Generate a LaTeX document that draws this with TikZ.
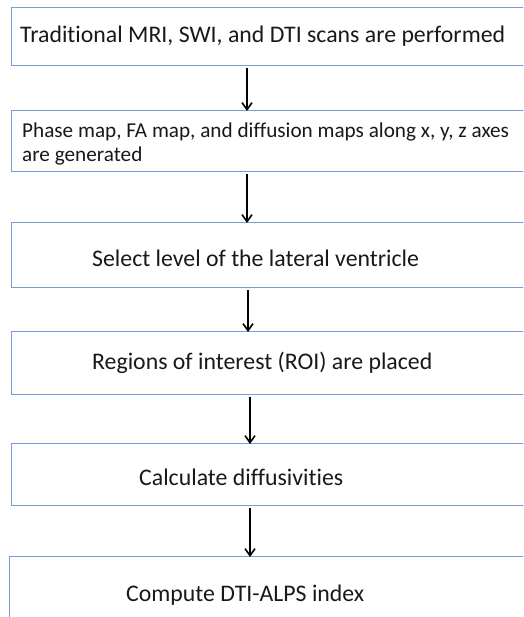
\documentclass[tikz,border=0pt]{standalone}
\usepackage{fontspec}
\setmainfont[Ligatures={NoCommon,NoRequired,NoContextual}]{Carlito}
\usetikzlibrary{arrows.meta,calc}
\definecolor{boxblue}{RGB}{120,156,210}
\definecolor{txt}{RGB}{25,25,25}
\begin{document}
\begin{tikzpicture}[x=1pt,y=-1pt,
  box/.style={draw=boxblue, line width=1.3pt, minimum width=540pt, anchor=north west, inner sep=0pt, fill=white},
  lbl/.style={font=\fontsize{23.8}{24}\selectfont, text=txt, anchor=west, inner sep=0pt, align=left},
  arr/.style={-{Straight Barb[length=7pt,width=10pt,line width=1.6pt]}, line width=1.8pt, shorten <=1.5pt, shorten >=-1pt}]
\useasboundingbox (0,0) rectangle (523,617);
\clip (0,0) rectangle (523,617);
\fill[white] (0,0) rectangle (523,617);
% boxes
\node[box, minimum height=58pt] (b1) at (11,7) {};
\node[box, minimum height=61pt] (b2) at (11,110) {};
\node[box, minimum height=65pt] (b3) at (11,222) {};
\node[box, minimum height=63pt] (b4) at (11,331) {};
\node[box, minimum height=62pt] (b5) at (11,443) {};
\node[box, minimum height=100pt] (b6) at (9,556) {};
% labels
\node[lbl] (t1) at (20,36) {Traditional MRI, SWI, and DTI scans are performed};
\node[lbl, anchor=base west, font=\fontsize{21.2}{24}\selectfont] (t2) at (22,162) {Phase map, FA map, and diffusion maps along x, y, z axes\\are generated};
\node[lbl] (t3) at (92,258) {Select level of the lateral ventricle};
\node[lbl] (t4) at (92,363) {Regions of interest (ROI) are placed};
\node[lbl] (t5) at (139,477) {Calculate diffusivities};
\node[lbl] (t6) at (126,595) {Compute DTI-ALPS index};
% arrow columns
\coordinate (c1) at (247,0);
\coordinate (c2) at (247,0);
\coordinate (c3) at (248,0);
\coordinate (c4) at (250,0);
\coordinate (c5) at (250,0);
\draw[arr] (b1.south -| c1) -- (b2.north -| c1);
\draw[arr] (b2.south -| c2) -- (b3.north -| c2);
\draw[arr] (b3.south -| c3) -- (b4.north -| c3);
\draw[arr] (b4.south -| c4) -- (b5.north -| c4);
\draw[arr] (b5.south -| c5) -- (b6.north -| c5);
\end{tikzpicture}
\end{document}
